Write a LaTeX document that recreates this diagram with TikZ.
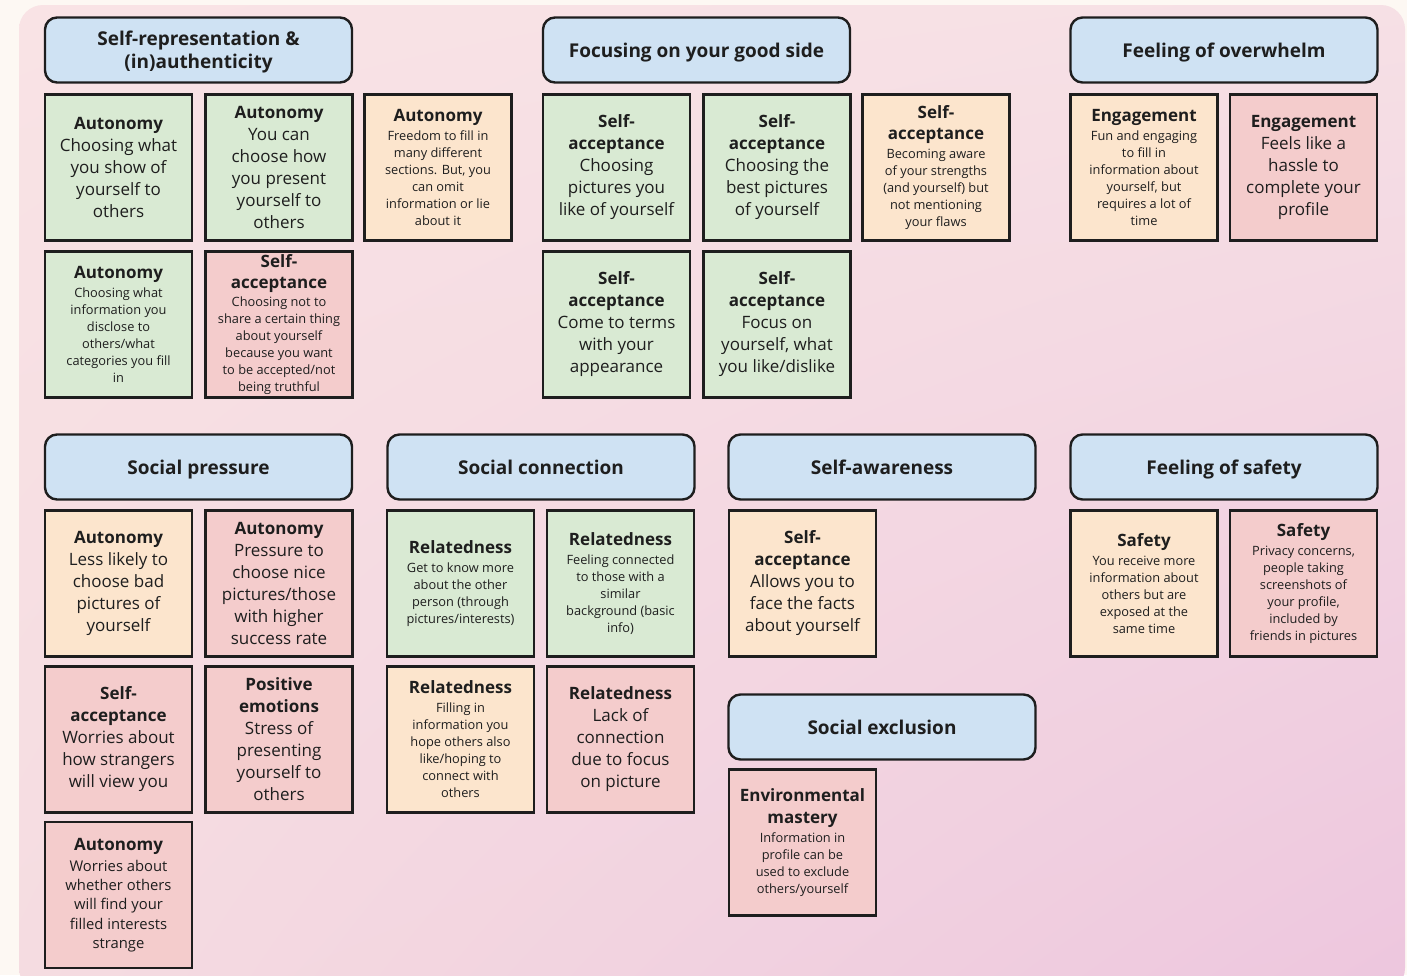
\documentclass[tikz,border=0pt]{standalone}
\usepackage{xcolor}
\usepackage{fontspec}
\setmainfont{Open Sans}
\usepackage{tikz}
\usetikzlibrary{shadings}

\definecolor{ink}{HTML}{1E1E1E}
\definecolor{hblue}{HTML}{CFE2F3}
\definecolor{cgreen}{HTML}{D9EAD3}
\definecolor{corange}{HTML}{FCE5CD}
\definecolor{cpink}{HTML}{F4CCCC}
\definecolor{paper}{HTML}{FDF8F3}
\definecolor{bgtl}{HTML}{F9E3E5}
\definecolor{bgtr}{HTML}{F6E0E5}
\definecolor{bgbl}{HTML}{F5DCE1}
\definecolor{bgbr}{HTML}{EDC6DE}

\newcommand{\cardhead}[1]{{\fontsize{8.5}{11}\selectfont\bfseries #1}}

\begin{document}
\begin{tikzpicture}[x=0.5pt,y=-0.5pt,
    head/.style={draw=ink,line width=1.2pt,fill=hblue,rounded corners=6pt,minimum width=153.5pt,minimum height=32.5pt,align=center,text=ink,text height=7.2pt,text depth=0pt,font=\fontsize{9.5}{11.5}\selectfont\bfseries},
    card/.style={draw=ink,line width=1.2pt,minimum width=73.5pt,minimum height=73pt,align=center,inner sep=1pt,text=ink},
    bigcard/.style={card,font=\fontsize{8.5}{11}\selectfont},
    midcard/.style={card,font=\fontsize{7.4}{9.6}\selectfont},
    smallcard/.style={card,font=\fontsize{6.4}{8.5}\selectfont}]
        \useasboundingbox (0,0) rectangle (1407,975);
        \fill[paper] (0,0) rectangle (1407,975);
        \shade[upper left=bgtl,upper right=bgtr,lower left=bgbl,lower right=bgbr,rounded corners=12pt] (19,5) rectangle (1405,992);

        \node[head,text height=20.2pt,text depth=2.2pt] (HSR) at (198.5,50) {Self-representation \&\\(in)authenticity};
        \node[head] (HFG) at (696.5,50) {Focusing on your good side};
        \node[head] (HFO) at (1224,50) {Feeling of overwhelm};
        \node[head] (HSP) at (198.5,467) {Social pressure};
        \node[head] (HSC) at (541,467) {Social connection};
        \node[head] (HSA) at (882,467) {Self-awareness};
        \node[head] (HFS) at (1224,467) {Feeling of safety};
        \node[head] (HSE) at (882,727) {Social exclusion};

        \node[bigcard,fill=cgreen] (SR1) at (118.5,167.5) {\cardhead{Autonomy}\\Choosing what\\you show of\\yourself to\\others};
        \node[bigcard,fill=cgreen] (SR2) at (279,167.5) {\cardhead{Autonomy}\\You can\\choose how\\you present\\yourself to\\others};
        \node[smallcard,fill=corange] (SR3) at (438,167.5) {\cardhead{Autonomy}\\[1pt]Freedom to fill in\\many different\\sections. But, you\\can omit\\information or lie\\about it};
        \node[smallcard,fill=cgreen] (SR4) at (118.5,324.5) {\cardhead{Autonomy}\\[1pt]Choosing what\\information you\\disclose to\\others/what\\categories you fill\\in};
        \node[smallcard,fill=cpink] (SR5) at (279,324.5) {\cardhead{Self-}\\[2.2pt]\cardhead{acceptance}\\[0.5pt]Choosing not to\\share a certain thing\\about yourself\\because you want\\to be accepted/not\\being truthful};

        \node[bigcard,fill=cgreen] (FG1) at (616.5,167.5) {\cardhead{Self-}\\\cardhead{acceptance}\\Choosing\\pictures you\\like of yourself};
        \node[bigcard,fill=cgreen] (FG2) at (777,167.5) {\cardhead{Self-}\\\cardhead{acceptance}\\Choosing the\\best pictures\\of yourself};
        \node[smallcard,fill=corange] (FG3) at (936,167.5) {\cardhead{Self-}\\[2.4pt]\cardhead{acceptance}\\[1pt]Becoming aware\\of your strengths\\(and yourself) but\\not mentioning\\your flaws};
        \node[bigcard,fill=cgreen] (FG4) at (616.5,324.5) {\cardhead{Self-}\\\cardhead{acceptance}\\Come to terms\\with your\\appearance};
        \node[bigcard,fill=cgreen] (FG5) at (777,324.5) {\cardhead{Self-}\\\cardhead{acceptance}\\Focus on\\yourself, what\\you like/dislike};

        \node[smallcard,fill=corange] (FO1) at (1144,167.5) {\cardhead{Engagement}\\[1pt]Fun and engaging\\to fill in\\information about\\yourself, but\\requires a lot of\\time};
        \node[bigcard,fill=cpink] (FO2) at (1303.5,167.5) {\cardhead{Engagement}\\Feels like a\\hassle to\\complete your\\profile};

        \node[bigcard,fill=corange] (SP1) at (118.5,583.5) {\cardhead{Autonomy}\\Less likely to\\choose bad\\pictures of\\yourself};
        \node[bigcard,fill=cpink] (SP2) at (279,583.5) {\cardhead{Autonomy}\\Pressure to\\choose nice\\pictures/those\\with higher\\success rate};
        \node[bigcard,fill=cpink] (SP3) at (118.5,739.5) {\cardhead{Self-}\\\cardhead{acceptance}\\Worries about\\how strangers\\will view you};
        \node[bigcard,fill=cpink] (SP4) at (279,739.5) {\cardhead{Positive}\\\cardhead{emotions}\\Stress of\\presenting\\yourself to\\others};
        \node[midcard,fill=cpink] (SP5) at (118.5,895) {\cardhead{Autonomy}\\[1pt]Worries about\\whether others\\will find your\\filled interests\\strange};

        \node[smallcard,fill=cgreen] (SC1) at (460.5,583.5) {\cardhead{Relatedness}\\[1pt]Get to know more\\about the other\\person (through\\pictures/interests)};
        \node[smallcard,fill=cgreen] (SC2) at (620.5,583.5) {\cardhead{Relatedness}\\[1pt]Feeling connected\\to those with a\\similar\\background (basic\\info)};
        \node[smallcard,fill=corange] (SC3) at (460.5,739.5) {\cardhead{Relatedness}\\[1pt]Filling in\\information you\\hope others also\\like/hoping to\\connect with\\others};
        \node[bigcard,fill=cpink] (SC4) at (620.5,739.5) {\cardhead{Relatedness}\\Lack of\\connection\\due to focus\\on picture};

        \node[bigcard,fill=corange] (SA1) at (802.5,583.5) {\cardhead{Self-}\\\cardhead{acceptance}\\Allows you to\\face the facts\\about yourself};

        \node[smallcard,fill=corange] (FS1) at (1144,583.5) {\cardhead{Safety}\\[1pt]You receive more\\information about\\others but are\\exposed at the\\same time};
        \node[smallcard,fill=cpink] (FS2) at (1303.5,583.5) {\cardhead{Safety}\\[1pt]Privacy concerns,\\people taking\\screenshots of\\your profile,\\included by\\friends in pictures};

        \node[smallcard,fill=cpink] (SE1) at (802.5,842.5) {\cardhead{Environmental}\\[2.4pt]\cardhead{mastery}\\[1pt]Information in\\profile can be\\used to exclude\\others/yourself};
\end{tikzpicture}
\end{document}
